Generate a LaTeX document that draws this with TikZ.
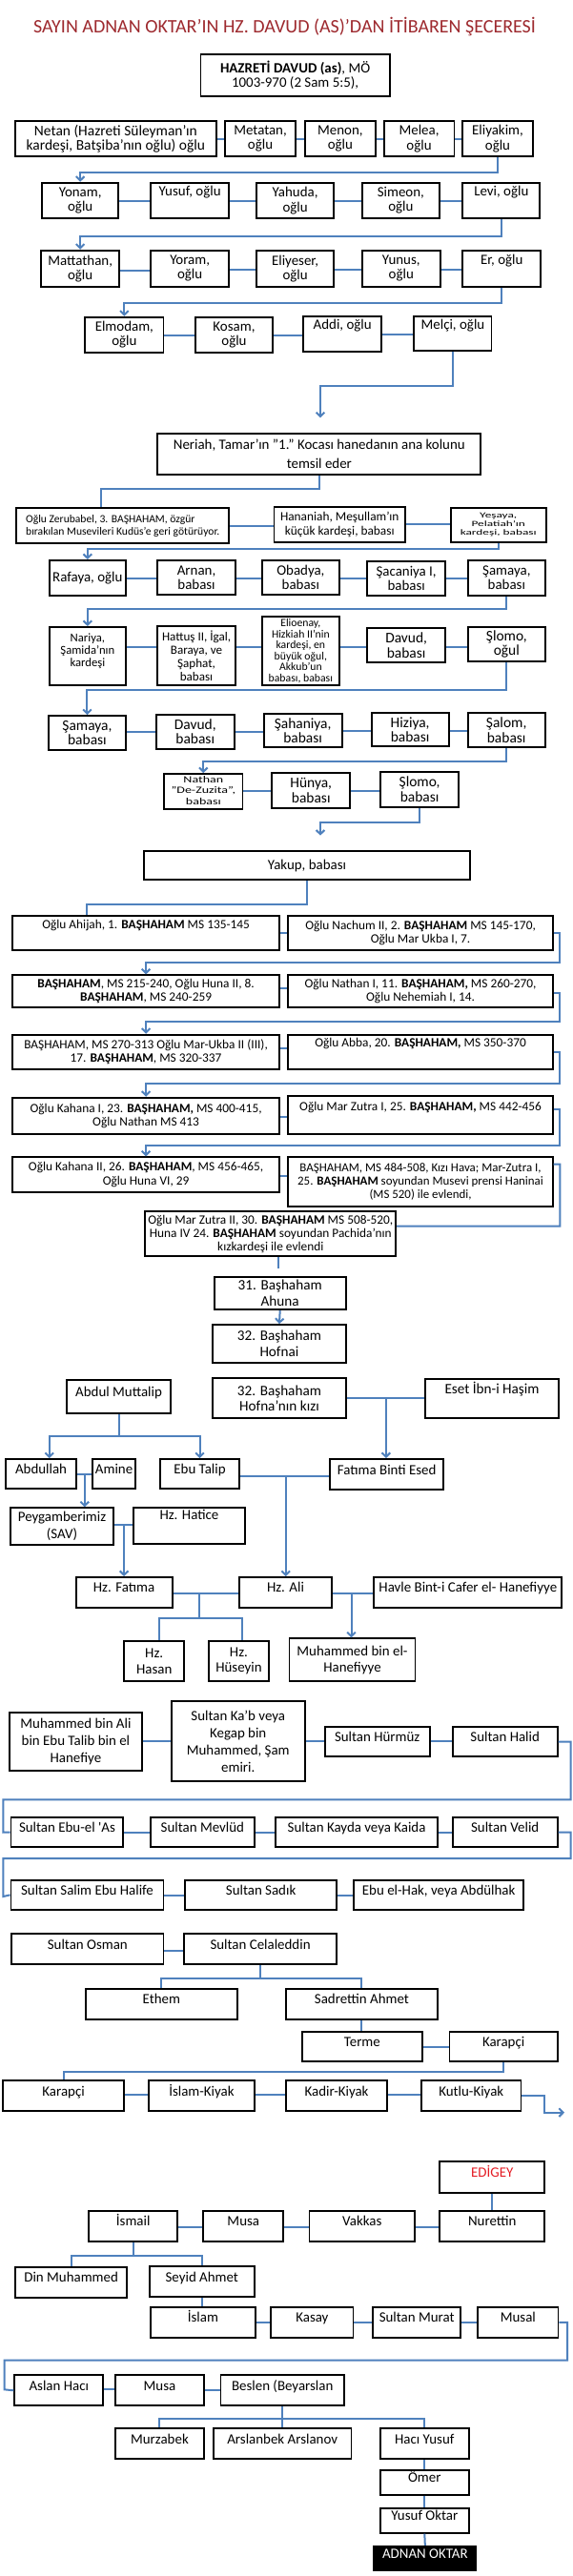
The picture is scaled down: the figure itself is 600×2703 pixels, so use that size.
\documentclass[tikz,border=0pt]{standalone}
\usepackage{fontspec}
\usepackage{graphicx}
\setmainfont{Carlito}
\usetikzlibrary{arrows.meta,calc}
\definecolor{lnblue}{RGB}{79,129,189}
\definecolor{ttlred}{RGB}{158,42,47}
\definecolor{edred}{RGB}{228,28,36}
\newcommand\mkbox[7][]{%
  \pgfmathsetmacro\mkbw{(#4-#2)*0.75}%
  \pgfmathsetmacro\mkbh{(#5-#3)*0.75}%
  \pgfmathsetmacro\mkbx{(#2+#4)/2}%
  \pgfmathsetmacro\mkby{(#3+#5)/2}%
  \node[box,minimum width=\mkbw pt,minimum height=\mkbh pt,#1] (#6) at (\mkbx,\mkby) {#7};}
\newcommand\hcon[3]{\coordinate (hy) at (0,#3);\draw[ln] (#1.east |- hy) -- (#2.west |- hy);}
\newcommand\squash[2]{\scalebox{1}[#1]{\begin{tabular}{@{}c@{}}#2\end{tabular}}}
\tikzset{
  box/.style={draw=black,line width=1.4pt,fill=white,align=center,inner sep=1pt,font=\fontsize{11.2}{12}\selectfont},
  one/.style={text height=7pt,text depth=7pt},
  ft/.style={font=\fontsize{11.2}{11.4}\selectfont},
  fb/.style={font=\fontsize{10}{10.8}\selectfont},
  ln/.style={draw=lnblue,line width=1.5pt},
  arr/.style={ln,-{Straight Barb[length=3.2pt,width=6.5pt]}},
}
\begin{document}
\begin{tikzpicture}[x=0.75pt,y=-0.75pt]
\fill[white] (0,0) rectangle (600,2703);
\useasboundingbox (0,0) rectangle (600,2703);

% ================= NODES =================
\node[text=ttlred,font=\fontsize{15}{18}\selectfont,inner sep=0pt] (title) at (298.5,28.3) {SAYIN ADNAN OKTAR’IN HZ. DAVUD (AS)’DAN İTİBAREN ŞECERESİ};

\mkbox[ft]{210.5}{57.3}{408.7}{100.7}{davud}{\textbf{HAZRETİ DAVUD (as)}, MÖ\\1003-970 (2 Sam 5:5),}

% row 1
\mkbox[font=\fontsize{11.6}{11.6}\selectfont]{16.1}{127.3}{226.6}{164}{netan}{Netan (Hazreti Süleyman’ın\\kardeşi, Batşiba’nın oğlu) oğlu}
\mkbox[ft]{236.1}{127.3}{310}{164}{metatan}{Metatan,\\oğlu}
\mkbox[ft]{319.6}{127.3}{394.2}{164}{menon}{Menon,\\oğlu}
\mkbox[ft]{402.6}{127.3}{476.5}{164}{melea}{Melea,\\oğlu}
\mkbox[ft]{485.3}{127.3}{558.7}{164}{eliyakim}{Eliyakim,\\oğlu}
% row 2
\mkbox[ft]{44}{191.7}{124.4}{229.3}{yonam}{Yonam,\\oğlu}
\mkbox[ft]{158}{191.7}{240.3}{229.3}{yusuf}{Yusuf, oğlu\\\strut}
\mkbox[ft]{269}{191.7}{350.2}{229.3}{yahuda}{Yahuda,\\oğlu}
\mkbox[ft]{379.6}{191.7}{461.2}{229.3}{simeon}{Simeon,\\oğlu}
\mkbox[ft]{485.3}{191.7}{566.4}{229.3}{levi}{Levi, oğlu\\\strut}
% row 3
\mkbox[ft]{43.2}{262.7}{125.1}{300.7}{mattathan}{Mattathan,\\oğlu}
\mkbox[ft]{158}{262.7}{240.3}{300.7}{yoram}{Yoram,\\oğlu}
\mkbox[ft]{269}{262.7}{350.2}{300.7}{eliyeser}{Eliyeser,\\oğlu}
\mkbox[ft]{379.6}{262.7}{462}{300.7}{yunus}{Yunus,\\oğlu}
\mkbox[ft]{485.3}{262.7}{567.2}{300.7}{er}{Er, oğlu\\\strut}
% row 4
\mkbox[ft]{89.2}{332.7}{171.5}{370}{elmodam}{Elmodam,\\oğlu}
\mkbox[ft]{204.7}{333.3}{286.3}{370}{kosam}{Kosam,\\oğlu}
\mkbox[ft]{318.4}{332.3}{400}{369}{addi}{Addi, oğlu\\\strut}
\mkbox[ft]{434.4}{331.7}{515.5}{367.7}{melci}{Melçi, oğlu\\\strut}
\coordinate (nerA) at (336,438.3);
% Neriah
\mkbox[font=\fontsize{11.2}{15}\selectfont]{165.3}{455}{504.4}{498.3}{neriah}{Neriah, Tamar’ın "1." Kocası hanedanın ana kolunu\\temsil eder}
% row 5
\mkbox[font=\fontsize{8.7}{9.6}\selectfont,align=left]{17.2}{533.3}{240.3}{570}{zerub}{Oğlu Zerubabel, 3. BAŞHAHAM, özgür\\bırakılan Musevileri Kudüs’e geri götürüyor.}
\mkbox[font=\fontsize{10}{11}\selectfont]{287.5}{531.7}{425}{569.3}{hananiah}{Hananiah, Meşullam’ın\\küçük kardeşi, babası}
\mkbox[font=\fontsize{10}{11}\selectfont]{472.6}{532.7}{572.9}{569.3}{yesaya}{\squash{0.62}{Yeşaya,\\Pelatiah’ın\\kardeşi, babası}}
% row 6
\mkbox[ft]{51.7}{588}{132}{625}{rafaya}{Rafaya, oğlu}
\mkbox[ft]{165.3}{588}{246.8}{624}{arnan}{Arnan,\\babası}
\mkbox[ft]{274.8}{587.7}{355.9}{624}{obadya}{Obadya,\\babası}
\mkbox[ft]{385.4}{589.3}{466.9}{625}{sacaniya}{Şacaniya I,\\babası}
\mkbox[ft]{490.6}{588}{572.1}{625}{samaya}{Şamaya,\\babası}
% row 7
\mkbox[font=\fontsize{9.5}{10}\selectfont]{51.7}{658}{132}{719.3}{nariya}{Nariya,\\Şamida’nın\\kardeşi\\\mbox{}}
\mkbox[font=\fontsize{9.8}{10.6}\selectfont]{165.3}{656.7}{246.8}{719.3}{hattus}{Hattuş II, İgal,\\Baraya, ve\\Şaphat,\\babası}
\mkbox[font=\fontsize{8.8}{8.6}\selectfont]{274.8}{647.3}{355.9}{719.3}{elioenay}{Elioenay,\\Hizkiah II’nin\\kardeşi, en\\büyük oğul,\\Akkub’un\\babası, babası}
\mkbox[font=\fontsize{11.6}{11.6}\selectfont]{385.4}{659.3}{466.9}{695}{davud2}{Davud,\\babası}
\mkbox[font=\fontsize{11.6}{11.6}\selectfont]{490.6}{658.3}{572.1}{694}{slomo1}{Şlomo,\\oğul}
% row 8
\mkbox[font=\fontsize{11.6}{11.6}\selectfont]{50.9}{751}{132}{786.7}{samaya2}{Şamaya,\\babası}
\mkbox[font=\fontsize{11.6}{11.6}\selectfont]{163.8}{750}{245.7}{785.7}{davud3}{Davud,\\babası}
\mkbox[font=\fontsize{11.6}{11.6}\selectfont]{276.7}{749}{358.6}{784.3}{sahaniya}{Şahaniya,\\babası}
\mkbox[font=\fontsize{11.6}{11.6}\selectfont]{389.6}{747.7}{470.7}{783.3}{hiziya}{Hiziya,\\babası}
\mkbox[font=\fontsize{11.6}{11.6}\selectfont]{490.6}{748.3}{571.8}{784.3}{salom}{Şalom,\\babası}
% row 9
\mkbox[font=\fontsize{10.5}{12}\selectfont]{172.2}{812.3}{254.5}{849}{nathan}{\squash{0.72}{Nathan\\"De-Zuzita",\\babası}}
\mkbox[font=\fontsize{11.6}{11.6}\selectfont]{285.1}{811}{367.4}{847.7}{hunya}{Hünya,\\babası}
\mkbox[font=\fontsize{11.6}{11.6}\selectfont]{399.2}{810}{481}{846.7}{slomo2}{Şlomo,\\babası}
\coordinate (yakA) at (336,876.7);
% Yakup
\mkbox{151.2}{893.3}{492.9}{923.3}{yakup}{Yakup, babası}
% Bashaham rows
\mkbox[fb]{13.4}{961}{292.8}{996.7}{ahijah}{Oğlu Ahijah, 1. \textbf{BAŞHAHAM} MS 135-145\\\strut}
\mkbox[fb]{302.3}{961}{579.8}{996.7}{nachum}{Oğlu Nachum II, 2. \textbf{BAŞHAHAM} MS 145-170,\\Oğlu Mar Ukba I, 7.}
\mkbox[fb]{13.4}{1023.3}{292.8}{1056.7}{r11a}{\textbf{BAŞHAHAM}, MS 215-240, Oğlu Huna II, 8.\\\textbf{BAŞHAHAM}, MS 240-259}
\mkbox[fb]{302.3}{1023.3}{579.8}{1056.7}{r11b}{Oğlu Nathan I, 11. \textbf{BAŞHAHAM,} MS 260-270,\\Oğlu Nehemiah I, 14.}
\mkbox[fb]{13.4}{1085.7}{292.8}{1121.7}{r12a}{BAŞHAHAM, MS 270-313 Oğlu Mar-Ukba II (III),\\17. \textbf{BAŞHAHAM}, MS 320-337}
\mkbox[fb]{302.3}{1085.7}{579.8}{1121.7}{r12b}{Oğlu Abba, 20. \textbf{BAŞHAHAM,} MS 350-370\\\strut}
\mkbox[fb]{13.4}{1151.7}{292.8}{1190}{r13a}{Oğlu Kahana I, 23. \textbf{BAŞHAHAM,} MS 400-415,\\Oğlu Nathan MS 413}
\mkbox[fb]{302.3}{1150}{579.8}{1190}{r13b}{Oğlu Mar Zutra I, 25. \textbf{BAŞHAHAM,} MS 442-456\\\strut}
\mkbox[fb]{13.4}{1214.3}{292.8}{1251}{r14a}{Oğlu Kahana II, 26. \textbf{BAŞHAHAM}, MS 456-465,\\Oğlu Huna VI, 29}
\mkbox[font=\fontsize{9.7}{10.6}\selectfont]{302.3}{1214.3}{579.8}{1265.7}{r14b}{BAŞHAHAM, MS 484-508, Kızı Hava; Mar-Zutra I,\\25. \textbf{BAŞHAHAM} soyundan Musevi prensi Haninai\\(MS 520) ile evlendi,}
\mkbox[font=\fontsize{10}{10.6}\selectfont]{152.3}{1271}{415.2}{1318.3}{zutra2}{Oğlu Mar Zutra II, 30. \textbf{BAŞHAHAM} MS 508-520,\\Huna IV 24. \textbf{BAŞHAHAM} soyundan Pachida’nın\\kızkardeşi ile evlendi}
\mkbox[font=\fontsize{11.4}{12.6}\selectfont]{224.6}{1340}{362.8}{1374}{b31}{31. Başhaham\\Ahuna}
\mkbox[font=\fontsize{11.4}{13}\selectfont]{223.1}{1390}{362.8}{1430}{b32}{32. Başhaham\\Hofnai}
% Islamic branch
\mkbox[font=\fontsize{11.4}{12.4}\selectfont]{223.1}{1446}{362.8}{1488.3}{kizi}{32. Başhaham\\Hofna’nın kızı}
\mkbox[font=\fontsize{11.4}{13}\selectfont]{445.8}{1446.7}{586.3}{1488.3}{eset}{Eset İbn-i Haşim\\\strut}
\mkbox[one]{70}{1448.3}{179.1}{1482.7}{am}{Abdul Muttalip}
\mkbox[one]{5.7}{1531}{80.4}{1562.3}{abdullah}{Abdullah}
\mkbox[one]{96.8}{1531}{142.4}{1562.3}{amine}{Amine}
\mkbox[one]{168.4}{1531}{250.7}{1562.3}{ebutalip}{Ebu Talip}
\mkbox[one]{346.4}{1531}{465}{1563.3}{fbe}{Fatıma Binti Esed}
\mkbox[font=\fontsize{11.2}{13.5}\selectfont]{10.7}{1582.3}{119.4}{1621}{peyg}{Peygamberimiz\\(SAV)}
\mkbox[font=\fontsize{11.2}{13.5}\selectfont]{139.7}{1582.3}{257.2}{1620}{hatice}{Hz. Hatice\\\strut}
\mkbox[one]{79.6}{1655}{180.6}{1686.7}{hzfatima}{Hz. Fatıma}
\mkbox[one]{250.7}{1655}{348.3}{1686.7}{ali}{Hz. Ali}
\mkbox[one]{392.3}{1655}{589.4}{1686.7}{havle}{Havle Bint-i Cafer el- Hanefiyye}
\mkbox[font=\fontsize{11.2}{12.5}\selectfont]{130.1}{1721.7}{193.3}{1764.3}{hasan}{Hz.\\Hasan}
\mkbox[font=\fontsize{11.2}{12.5}\selectfont]{218.9}{1721.7}{282}{1764.3}{huseyin}{Hz.\\Hüseyin}
\mkbox[font=\fontsize{11.2}{12.5}\selectfont]{303.5}{1719.3}{435.5}{1764.3}{mbh}{Muhammed bin el-\\Hanefiyye}
% Sultans
\mkbox[font=\fontsize{11.2}{13.2}\selectfont]{9.6}{1796.7}{149.3}{1858.3}{mba}{Muhammed bin Ali\\bin Ebu Talib bin el\\Hanefiye}
\mkbox[font=\fontsize{11.2}{13.6}\selectfont]{179.9}{1785}{319.6}{1869.3}{kab}{Sultan Ka’b veya\\Kegap bin\\Muhammed, Şam\\emiri.}
\mkbox[one]{340.6}{1811.7}{450.8}{1843.3}{hurmuz}{Sultan Hürmüz}
\mkbox[one]{474.6}{1811.7}{584.8}{1843.3}{halid}{Sultan Halid}
\mkbox[one]{11.5}{1906.7}{129.4}{1938.3}{ebuelas}{Sultan Ebu-el \textquotesingle As}
\mkbox[one]{157.7}{1906.7}{267.1}{1938.3}{mevlud}{Sultan Mevlüd}
\mkbox[one]{289}{1906.7}{459.2}{1938.3}{kayda}{Sultan Kayda veya Kaida}
\mkbox[one]{474.6}{1906.7}{584.8}{1938.3}{velid}{Sultan Velid}
\mkbox[one]{11.5}{1972.7}{171.5}{2004}{salim}{Sultan Salim Ebu Halife}
\mkbox[one]{194.4}{1972.7}{352.9}{2004}{sadik}{Sultan Sadık}
\mkbox[one]{371.2}{1972.7}{549.2}{2004}{ebulhak}{Ebu el-Hak, veya Abdülhak}
\mkbox[one]{12.2}{2029}{171.5}{2061}{osman}{Sultan Osman}
\mkbox[one]{193.3}{2029}{352.9}{2061}{celal}{Sultan Celaleddin}
\mkbox[one]{89.9}{2086.7}{248.8}{2119}{ethem}{Ethem}
\mkbox[one]{299.7}{2086.7}{459.2}{2119}{sadr}{Sadrettin Ahmet}
\mkbox[one]{316.9}{2131.7}{442.8}{2163.3}{terme}{Terme}
\mkbox[one]{471.5}{2131.7}{584.8}{2163.3}{karapci1}{Karapçi}
\mkbox[one]{3.1}{2183.3}{130.1}{2215}{karapci2}{Karapçi}
\mkbox[one]{155.8}{2183.3}{267.1}{2215}{islamk}{İslam-Kiyak}
\mkbox[one]{300.4}{2183.3}{405.7}{2215}{kadirk}{Kadir-Kiyak}
\mkbox[one]{442}{2183.3}{546.5}{2215}{kutluk}{Kutlu-Kiyak}
\coordinate (kend) at (592,2216.7);
% Edigey branch
\mkbox[one,text=edred]{461.2}{2268.3}{571.4}{2300.7}{edigey}{EDİGEY}
\mkbox[one]{93}{2320}{186.4}{2351.7}{ismail}{İsmail}
\mkbox[one]{213.2}{2320}{297.4}{2351.7}{musa1}{Musa}
\mkbox[one]{324.5}{2320}{435.1}{2351.7}{vakkas}{Vakkas}
\mkbox[one]{461.2}{2320}{571.4}{2351.7}{nurettin}{Nurettin}
\mkbox[one]{16.1}{2379}{133.2}{2410.7}{din}{Din Muhammed}
\mkbox[one]{156.9}{2378.3}{266.7}{2410}{seyid}{Seyid Ahmet}
\mkbox[one]{158}{2421}{267.9}{2452.7}{islam}{İslam}
\mkbox[one]{284.3}{2421}{370.5}{2452.7}{kasay}{Kasay}
\mkbox[one]{391.1}{2421}{483.3}{2452.7}{murat}{Sultan Murat}
\mkbox[one]{501.3}{2421}{585.5}{2452.7}{musal}{Musal}
\mkbox[one]{15.3}{2492.3}{108.3}{2524.3}{aslan}{Aslan Hacı}
\mkbox[one]{121.3}{2492.3}{213.6}{2524.3}{musa2}{Musa}
\mkbox[one]{231.5}{2492.3}{360.9}{2524.3}{beslen}{Beslen (Beyarslan}
\mkbox[one]{121.3}{2548.3}{213.6}{2580}{murz}{Murzabek}
\mkbox[one]{223.9}{2548.3}{368.5}{2580}{arslanbek}{Arslanbek Arslanov}
\mkbox[one]{398.8}{2548.3}{491.8}{2580}{haci}{Hacı Yusuf}
\mkbox[one]{398.8}{2591.7}{491.8}{2617.7}{omer}{Ömer}
\mkbox[one]{398.8}{2631.7}{491.8}{2657.7}{yoktar}{Yusuf Oktar}
\mkbox[one,fill=black,text=white]{392.3}{2671.7}{499.4}{2697.3}{adnan}{ADNAN OKTAR}

% ================= CONNECTORS =================
\hcon{netan}{metatan}{146}\hcon{metatan}{menon}{146}\hcon{menon}{melea}{146}\hcon{melea}{eliyakim}{146}
\draw[arr] (eliyakim.south) -- ++(0,16) -| (yonam.north);
\hcon{yonam}{yusuf}{210.7}\hcon{yusuf}{yahuda}{210.7}\hcon{yahuda}{simeon}{210.7}\hcon{simeon}{levi}{210.7}
\draw[arr] (levi.south) -- ++(0,17.4) -| (mattathan.north);
\hcon{mattathan}{yoram}{284}\hcon{yoram}{eliyeser}{282.7}\hcon{eliyeser}{yunus}{282.7}\hcon{yunus}{er}{282.7}
\draw[arr] (er.south) -- ++(0,16) -| (elmodam.north);
\hcon{elmodam}{kosam}{352.3}\hcon{kosam}{addi}{351.7}\hcon{addi}{melci}{350.5}
\draw[arr] (melci.south) -- ++(0,36.3) -| (nerA);
\draw[ln] (neriah.south) -- ++(0,13.4) -| ([xshift=-16.8pt]zerub.north);
\hcon{zerub}{hananiah}{551.7}\hcon{hananiah}{yesaya}{550}
\draw[arr] (yesaya.south) -- ++(0,5.7) -| (rafaya.north);
\hcon{rafaya}{arnan}{606.7}\hcon{arnan}{obadya}{606.7}\hcon{obadya}{sacaniya}{606.7}\hcon{sacaniya}{samaya}{606.7}
\draw[arr] (samaya.south) -- ++(0,13.3) -| (nariya.north);
\hcon{nariya}{hattus}{679}\hcon{hattus}{elioenay}{679}\hcon{elioenay}{davud2}{679}\hcon{davud2}{slomo1}{679}
\draw[arr] (slomo1.south) -- ++(0,28.7) -| (samaya2.north);
\hcon{samaya2}{davud3}{768.3}\hcon{davud3}{sahaniya}{768.3}\hcon{sahaniya}{hiziya}{766.5}\hcon{hiziya}{salom}{766.5}
\draw[arr] (salom.south) -- ++(0,14) -| (nathan.north);
\hcon{nathan}{hunya}{830}\hcon{hunya}{slomo2}{830}
\draw[arr] (slomo2.south) -- ++(0,15) -| (yakA);
\draw[ln] (yakup.south) -- ++(0,25) -| ([xshift=58.8pt]ahijah.north west);
\hcon{ahijah}{nachum}{979.3}
\draw[arr] (nachum.east) -| (587.4,1010) -| (r11a.north);
\hcon{r11a}{r11b}{1037.3}
\draw[arr] ([yshift=-1.2pt]r11b.east) -| (587.4,1071.7) -| (r12a.north);
\hcon{r12a}{r12b}{1100}
\draw[arr] (r12b.east) -| (587.4,1136.7) -| (r13a.north);
\hcon{r13a}{r13b}{1171.7}
\draw[arr] ([yshift=4.5pt]r13b.east) -| (587.4,1202.3) -| (r14a.north);
\hcon{r14a}{r14b}{1234.3}
\draw[ln] ([yshift=13.8pt]r14b.east) -| (587.4,1286.7) -- ([yshift=6pt]zutra2.east);
\draw[ln] ([xshift=6.2pt]zutra2.south) -- ++(0,11.7) coordinate (stub);
\draw[arr] (b31.south) -- (b32.north);
\hcon{kizi}{eset}{1467.3}
\coordinate (j1) at (404.9,1467.3);
\draw[arr] (j1) -- (j1 |- fbe.north);
\draw[arr] (am.south) -- ++(0,23.3) -| ([xshift=6.5pt]abdullah.north);
\draw[arr] (am.south) -- ++(0,23.3) -| (ebutalip.north);
\hcon{abdullah}{amine}{1546.7}
\coordinate (j2) at (88.8,1546.7);
\draw[arr] (j2) -- (j2 |- peyg.north);
\hcon{ebutalip}{fbe}{1549}
\coordinate (j3) at (299.7,1549);
\draw[arr] (j3) -- (j3 |- ali.north);
\hcon{peyg}{hatice}{1600}
\coordinate (j4) at (130.1,1600);
\draw[arr] (j4) -- (j4 |- hzfatima.north);
\hcon{hzfatima}{ali}{1672.3}
\coordinate (j5) at (209.3,1672.3);
\coordinate (j6) at (209.3,1698.3);
\draw[ln] (j5) -- (j6);
\draw[ln] (j6) -| ([xshift=3.6pt]hasan.north);
\draw[ln] (j6) -| ([xshift=3pt]huseyin.north);
\hcon{ali}{havle}{1671.7}
\coordinate (j7) at (368.5,1671.7);
\draw[arr] (j7) -- (j7 |- mbh.north);
\hcon{mba}{kab}{1827.3}\hcon{kab}{hurmuz}{1827.3}\hcon{hurmuz}{halid}{1827.3}
\draw[ln] (halid.east) -| (598.6,1888.3) -| (3.4,1922.7) -- (ebuelas.west);
\hcon{ebuelas}{mevlud}{1922.7}\hcon{mevlud}{kayda}{1922.7}\hcon{kayda}{velid}{1922.7}
\draw[ln] (velid.east) -| (598.6,1950) -| (3.4,1990) -- (salim.west);
\hcon{salim}{sadik}{1989.3}\hcon{sadik}{ebulhak}{1989.3}
\hcon{osman}{celal}{2046.7}
\draw[ln] (celal.south) -- ++(0,14) coordinate (j8);
\draw[ln] (j8) -| (ethem.north);
\draw[ln] (j8) -| (sadr.north);
\draw[ln] (sadr.south) -- (sadr.south |- terme.north);
\hcon{terme}{karapci1}{2147.7}
\draw[ln] (karapci1.south) -- ++(0,9.4) -| (karapci2.north);
\hcon{karapci2}{islamk}{2198.3}\hcon{islamk}{kadirk}{2198.3}\hcon{kadirk}{kutluk}{2198.3}
\draw[arr] (kutluk.east) -| (571.4,2216.7) -- (kend);
\draw[ln] (edigey.south) -- (nurettin.north);
\hcon{ismail}{musa1}{2337.3}\hcon{musa1}{vakkas}{2336.7}\hcon{vakkas}{nurettin}{2336.7}
\draw[ln] (ismail.south) -- ++(0,14.3) coordinate (j9);
\draw[ln] (j9) -| (din.north);
\draw[ln] (j9) -| (seyid.north);
\draw[ln] (seyid.south) -- (seyid.south |- islam.north);
\hcon{islam}{kasay}{2437.3}\hcon{kasay}{murat}{2437.3}\hcon{murat}{musal}{2437.3}
\draw[ln] (musal.east) -| (595.1,2476.7) -| (4.6,2507.3) -- (aslan.west);
\hcon{aslan}{musa2}{2507.3}\hcon{musa2}{beslen}{2508.3}
\draw[ln] (beslen.south) -- ++(0,12.4) coordinate (j10);
\draw[ln] (j10) -| (murz.north);
\draw[ln] (j10) -- (arslanbek.north);
\draw[ln] (j10) -| (haci.north);
\draw[ln] (haci.south) -- (omer.north);
\draw[ln] (omer.south) -- (yoktar.north);
\draw[ln] (yoktar.south) -- (adnan.north);
\end{tikzpicture}
\end{document}
